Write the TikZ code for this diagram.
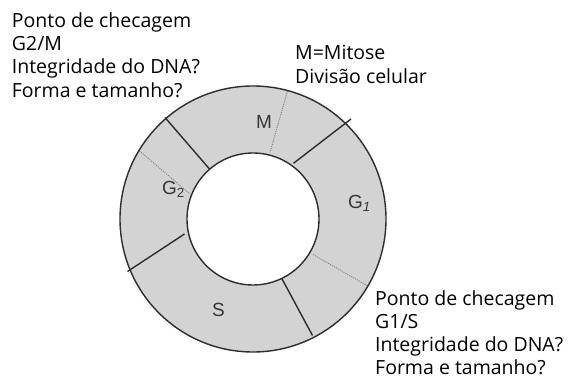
\documentclass[tikz,border=0pt]{standalone}
\usepackage{fontspec}
\setmainfont{Open Sans}
\newfontfamily\labfont{Liberation Sans}
\definecolor{ringgray}{RGB}{211,211,211}
\definecolor{edge}{RGB}{45,45,45}
\definecolor{dotgray}{RGB}{130,130,130}
\definecolor{labgray}{RGB}{55,55,55}
\tikzset{
  outline/.style={draw=edge, line width=1.4pt},
  divider/.style={draw=edge, line width=1.4pt},
  dotdiv/.style={draw=dotgray, line width=1pt, dash pattern=on 1pt off 1.2pt},
  phase/.style={font=\labfont\fontsize{19}{19}\selectfont, text=labgray, inner sep=0pt},
  note/.style={font=\fontsize{19.5}{19.5}\selectfont, anchor=base west, inner sep=0pt},
}
\begin{document}
\begin{tikzpicture}[x=1pt, y=-1pt]
\useasboundingbox (0,0) rectangle (571,379);
\coordinate (c) at (253,219);
% ring
\fill[ringgray, even odd rule] (c) circle[radius=133pt] (c) circle[radius=66pt];
% dividers (solid)
\coordinate (gm-o) at (165,117.5);
\coordinate (gm-i) at (209.5,169);
\coordinate (mg-o) at (351,119);
\coordinate (mg-i) at (293.5,163.3);
\coordinate (gs-i) at (281.7,278.3);
\coordinate (gs-o) at (312.5,335.5);
\coordinate (sg-i) at (184.5,234);
\coordinate (sg-o) at (127.5,271.5);
\draw[divider] (gm-o) -- (gm-i);
\draw[divider] (mg-o) -- (mg-i);
\draw[divider] (gs-i) -- (gs-o);
\draw[divider] (sg-i) -- (sg-o);
% dotted checkpoints
\coordinate (md-o) at (287.5,91);
\coordinate (md-i) at (270,152.5);
\coordinate (g2d-o) at (139.5,151);
\coordinate (g2d-i) at (190,194);
\coordinate (g1d-i) at (313,254.5);
\coordinate (g1d-o) at (367,285.5);
\draw[dotdiv] (md-o) -- (md-i);
\draw[dotdiv] (g2d-o) -- (g2d-i);
\draw[dotdiv] (g1d-i) -- (g1d-o);
% circles
\draw[outline] (c) circle[radius=133pt];
\draw[outline] (c) circle[radius=66pt];
% phase labels
\node[phase] (lm) at (264,122) {M};
\node[phase] (lg1) at (359.5,203) {G\textsubscript{\itshape 1}};
\node[phase] (lg2) at (173.5,189.5) {G\textsubscript{2}};
\node[phase] (ls) at (218.5,309.5) {S};
% notes: G2/M checkpoint
\node[note] (a1) at (11.7,27.3) {Ponto de checagem};
\node[note] (a2) at (11.7,50.7) {G2/M};
\node[note] (a3) at (11.7,74) {Integridade do DNA?};
\node[note] (a4) at (11.7,97.3) {Forma e tamanho?};
% mitosis
\node[note] (b1) at (295,60) {M=Mitose};
\node[note] (b2) at (295,83.3) {Divisão celular};
% G1/S checkpoint
\node[note] (d1) at (375,306) {Ponto de checagem};
\node[note] (d2) at (375,328.8) {G1/S};
\node[note] (d3) at (375,351.5) {Integridade do DNA?};
\node[note] (d4) at (375,374.3) {Forma e tamanho?};
\end{tikzpicture}
\end{document}
